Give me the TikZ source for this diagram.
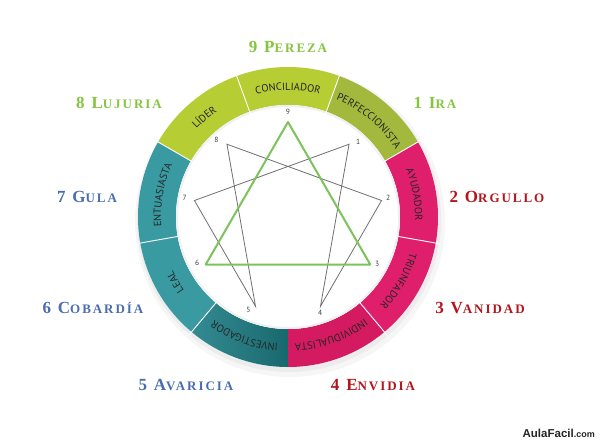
\documentclass[tikz,border=0pt]{standalone}
\usepackage{fontspec}
\usepackage{xcolor}
\usepackage{tikz}
\usetikzlibrary{decorations.text, positioning}

\newfontfamily\anillofont{PT Sans}
\newfontfamily\pecadofont[LetterSpace=15]{Liberation Serif}
\newfontfamily\marcafont{Liberation Sans}
\newcommand{\mayus}{\fontsize{17}{16}\selectfont}

\definecolor{lima}{HTML}{B6CD34}
\definecolor{oliva}{HTML}{A3B93D}
\definecolor{fucsia}{HTML}{DF1F6B}
\definecolor{fucsiaosc}{HTML}{D41A60}
\definecolor{petroleo}{HTML}{3A9AA2}
\definecolor{petroleoosc}{HTML}{18696E}
\definecolor{verdetxt}{HTML}{86C43F}
\definecolor{rojotxt}{HTML}{B3151C}
\definecolor{azultxt}{HTML}{4A6DAF}
\definecolor{verdelinea}{HTML}{7CC35C}
\definecolor{grislinea}{HTML}{707070}

\begin{document}
\begin{tikzpicture}[x=1pt, y=1pt]
	% Styles
	\tikzstyle{pecado} = [font=\pecadofont\bfseries\fontsize{13}{12}\selectfont, inner sep=0pt, align=center]
	\tikzstyle{numero} = [font=\anillofont\fontsize{7.5}{7.5}\selectfont, text=black!75, inner sep=0pt]
	\tikzstyle{textoanillo} = [decorate, decoration={text along path, text align=center, text color=black!85}]
	\tikzstyle{separador} = [white, line width=0.9pt]
	\tikzstyle{linea} = [grislinea, line width=0.8pt]
	\tikzstyle{triangulo} = [verdelinea, line width=2pt, line join=round]

	\useasboundingbox (-288,-223) rectangle (312,217);

	% Shadow
	\fill[black, opacity=0.035] (2,-5) circle (155pt);
	\fill[black, opacity=0.04] (1,-3) circle (152pt);

	% Ring
	\fill[lima] (70:150pt) arc[start angle=70, end angle=110, radius=150pt] -- (110:112pt) arc[start angle=110, end angle=70, radius=112pt] -- cycle;
	\fill[lima] (110:150pt) arc[start angle=110, end angle=150, radius=150pt] -- (150:112pt) arc[start angle=150, end angle=110, radius=112pt] -- cycle;
	\fill[oliva] (30:150pt) arc[start angle=30, end angle=70, radius=150pt] -- (70:112pt) arc[start angle=70, end angle=30, radius=112pt] -- cycle;
	\fill[fucsia] (-10:150pt) arc[start angle=-10, end angle=30, radius=150pt] -- (30:112pt) arc[start angle=30, end angle=-10, radius=112pt] -- cycle;
	\fill[fucsia] (-50:150pt) arc[start angle=-50, end angle=-10, radius=150pt] -- (-10:112pt) arc[start angle=-10, end angle=-50, radius=112pt] -- cycle;
	\fill[fucsiaosc] (-90:150pt) arc[start angle=-90, end angle=-50, radius=150pt] -- (-50:112pt) arc[start angle=-50, end angle=-90, radius=112pt] -- cycle;
	\shade[left color=petroleo!90!black, right color=petroleoosc] (-130:150pt) arc[start angle=-130, end angle=-90, radius=150pt] -- (-90:112pt) arc[start angle=-90, end angle=-130, radius=112pt] -- cycle;
	\fill[petroleo] (-170:150pt) arc[start angle=-170, end angle=-130, radius=150pt] -- (-130:112pt) arc[start angle=-130, end angle=-170, radius=112pt] -- cycle;
	\fill[petroleo] (150:150pt) arc[start angle=150, end angle=190, radius=150pt] -- (190:112pt) arc[start angle=190, end angle=150, radius=112pt] -- cycle;
	\fill[white] (0,0) circle (112pt);
	\draw[black!6, line width=2pt] (0,0) circle (111pt);

	% Separators
	\draw[separador] (70:108pt) -- (70:154pt);
	\draw[separador] (110:108pt) -- (110:154pt);
	\draw[separador] (150:108pt) -- (150:154pt);
	\draw[separador] (190:108pt) -- (190:154pt);
	\draw[separador] (-130:108pt) -- (-130:154pt);
	\draw[separador] (30:108pt) -- (30:154pt);
	\draw[separador] (-10:108pt) -- (-10:154pt);
	\draw[separador] (-50:108pt) -- (-50:154pt);

	% Ring texts
	\path[textoanillo, decoration={text={|\anillofont\fontsize{10.5}{10.5}\selectfont|CONCILIADOR}}] (120:127pt) arc[start angle=120, end angle=60, radius=127pt];
	\path[textoanillo, decoration={text={|\anillofont\fontsize{10.5}{10.5}\selectfont|PERFECCIONISTA}}] (80:127pt) arc[start angle=80, end angle=20, radius=127pt];
	\path[textoanillo, decoration={text={|\anillofont\fontsize{10.5}{10.5}\selectfont|AYUDADOR}}] (40:127pt) arc[start angle=40, end angle=-20, radius=127pt];
	\path[textoanillo, decoration={text={|\anillofont\fontsize{10.5}{10.5}\selectfont|TRIUNFADOR}}] (0:127pt) arc[start angle=0, end angle=-60, radius=127pt];
	\path[textoanillo, decoration={text={|\anillofont\fontsize{10.5}{10.5}\selectfont|INDIVIDUALISTA}}] (-40:127pt) arc[start angle=-40, end angle=-100, radius=127pt];
	\path[textoanillo, decoration={text={|\anillofont\fontsize{10.5}{10.5}\selectfont|INVESTIGADOR}}] (-80:127pt) arc[start angle=-80, end angle=-140, radius=127pt];
	\path[textoanillo, decoration={text={|\anillofont\fontsize{10.5}{10.5}\selectfont|LEAL}}] (-120:127pt) arc[start angle=-120, end angle=-180, radius=127pt];
	\path[textoanillo, decoration={text={|\anillofont\fontsize{10.5}{10.5}\selectfont|ENTUASIASTA}}] (200:127pt) arc[start angle=200, end angle=140, radius=127pt];
	\path[textoanillo, decoration={text={|\anillofont\fontsize{10.5}{10.5}\selectfont|LÍDER}}] (160:127pt) arc[start angle=160, end angle=100, radius=127pt];

	% Enneagram points
	\coordinate (v9) at (90:95pt);
	\coordinate (v1) at (50:95pt);
	\coordinate (v2) at (10:95pt);
	\coordinate (v3) at (-30:95pt);
	\coordinate (v4) at (-70:95pt);
	\coordinate (v5) at (-110:95pt);
	\coordinate (v6) at (-150:95pt);
	\coordinate (v7) at (170:95pt);
	\coordinate (v8) at (130:95pt);

	\node[numero] (n9) at (90:105pt) {9};
	\node[numero] (n1) at (47:103pt) {1};
	\node[numero] (n2) at (11:102pt) {2};
	\node[numero] (n3) at (-28:101pt) {3};
	\node[numero] (n4) at (-71.5:101pt) {4};
	\node[numero] (n5) at (-113:101pt) {5};
	\node[numero] (n6) at (-153:102pt) {6};
	\node[numero] (n7) at (169.5:105pt) {7};
	\node[numero] (n8) at (133:105pt) {8};

	% Lines
	\draw[linea] (v1) -- (v4) -- (v2) -- (v8) -- (v5) -- (v7) -- cycle;
	\draw[triangulo] (v9) -- (v3) -- (v6) -- cycle;

	% Labels
	\node[pecado, text=verdetxt] (pereza) at (0,170) {{\mayus 9 P}EREZA};
	\node[pecado, text=verdetxt] (lujuria) at (-169,114) {{\mayus 8 L}UJURIA};
	\node[pecado, text=verdetxt] (ira) at (147,114) {{\mayus 1 I}RA};
	\node[pecado, text=rojotxt] (orgullo) at (209,20) {{\mayus 2 O}RGULLO};
	\node[pecado, text=rojotxt] (vanidad) at (192,-91) {{\mayus 3 V}ANIDAD};
	\node[pecado, text=rojotxt] (envidia) at (85,-168) {{\mayus 4 E}NVIDIA};
	\node[pecado, text=azultxt] (avaricia) at (-102,-168) {{\mayus 5 A}VARICIA};
	\node[pecado, text=azultxt] (cobardia) at (-195,-91) {{\mayus 6 C}OBARDÍA};
	\node[pecado, text=azultxt] (gula) at (-201,20) {{\mayus 7 G}ULA};

	\node[anchor=base east, inner sep=0pt, text=black!85, font=\marcafont\bfseries\fontsize{11.5}{12}\selectfont] (marca) at (307,-220) {AulaFacil{\fontsize{9}{9}\selectfont.com}};
\end{tikzpicture}
\end{document}
